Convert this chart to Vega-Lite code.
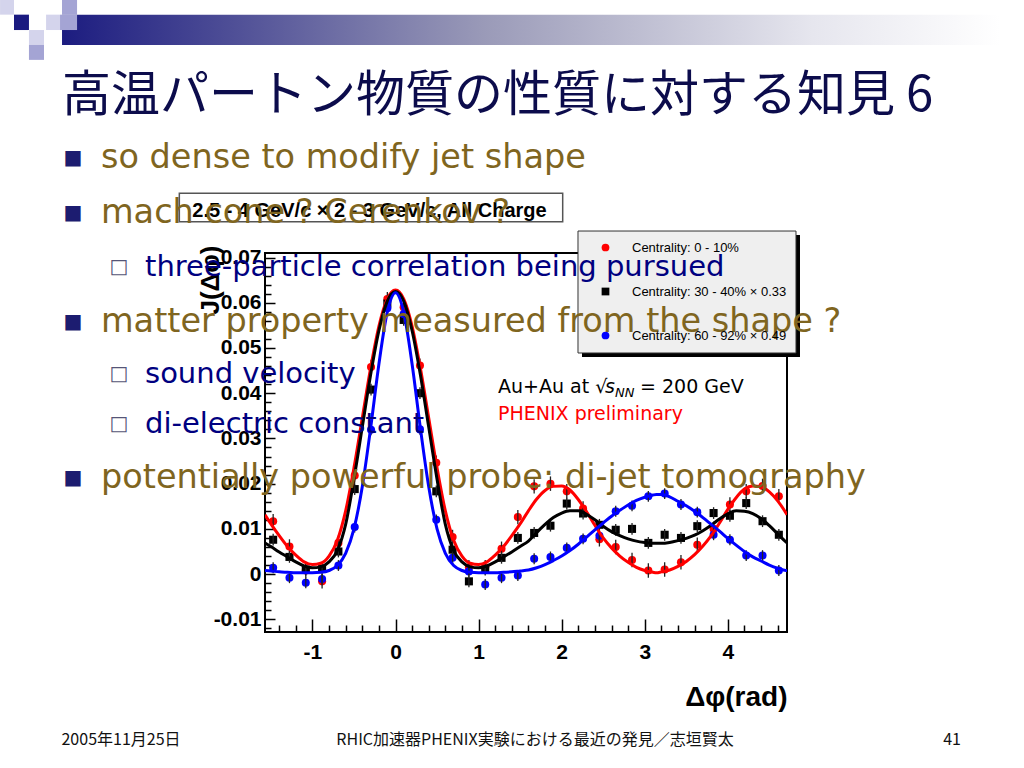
{
  "$schema": "https://vega.github.io/schema/vega-lite/v6.json",
  "autosize": {"type": "none"},
  "width": 522,
  "height": 379,
  "padding": {"left": 265, "top": 253, "right": 237, "bottom": 136},
  "background": "white",
  "config": {"view": {"stroke": "black", "strokeWidth": 2}, "font": "Liberation Sans"},
  "datasets": {
    "curves": [
      {"s": "0-10", "x": -1.5708, "v": 0.0131}, {"s": "0-10", "x": -1.5, "v": 0.0111}, {"s": "0-10", "x": -1.4, "v": 0.0085}, {"s": "0-10", "x": -1.3, "v": 0.0061}, {"s": "0-10", "x": -1.2, "v": 0.0042}, {"s": "0-10", "x": -1.1, "v": 0.0027}, {"s": "0-10", "x": -1.0, "v": 0.0021}, {"s": "0-10", "x": -0.9, "v": 0.0024}, {"s": "0-10", "x": -0.8, "v": 0.0040}, {"s": "0-10", "x": -0.7, "v": 0.0075}, {"s": "0-10", "x": -0.6, "v": 0.0140}, {"s": "0-10", "x": -0.5, "v": 0.0235}, {"s": "0-10", "x": -0.4, "v": 0.0345}, {"s": "0-10", "x": -0.3, "v": 0.0455}, {"s": "0-10", "x": -0.2, "v": 0.0548}, {"s": "0-10", "x": -0.1, "v": 0.0608}, {"s": "0-10", "x": 0.0, "v": 0.0628}, {"s": "0-10", "x": 0.1, "v": 0.0608}, {"s": "0-10", "x": 0.2, "v": 0.0548}, {"s": "0-10", "x": 0.3, "v": 0.0455}, {"s": "0-10", "x": 0.4, "v": 0.0345}, {"s": "0-10", "x": 0.5, "v": 0.0235}, {"s": "0-10", "x": 0.6, "v": 0.0140}, {"s": "0-10", "x": 0.7, "v": 0.0075}, {"s": "0-10", "x": 0.8, "v": 0.0040}, {"s": "0-10", "x": 0.9, "v": 0.0024}, {"s": "0-10", "x": 1.0, "v": 0.0021}, {"s": "0-10", "x": 1.1, "v": 0.0027}, {"s": "0-10", "x": 1.2, "v": 0.0042}, {"s": "0-10", "x": 1.3, "v": 0.0061}, {"s": "0-10", "x": 1.4, "v": 0.0085}, {"s": "0-10", "x": 1.5, "v": 0.0111}, {"s": "0-10", "x": 1.6, "v": 0.0140}, {"s": "0-10", "x": 1.7, "v": 0.0166}, {"s": "0-10", "x": 1.8, "v": 0.0185}, {"s": "0-10", "x": 1.9, "v": 0.0194}, {"s": "0-10", "x": 2.0, "v": 0.0195}, {"s": "0-10", "x": 2.1, "v": 0.0186}, {"s": "0-10", "x": 2.2, "v": 0.0165}, {"s": "0-10", "x": 2.3, "v": 0.0138}, {"s": "0-10", "x": 2.4, "v": 0.0108}, {"s": "0-10", "x": 2.5, "v": 0.0080}, {"s": "0-10", "x": 2.6, "v": 0.0058}, {"s": "0-10", "x": 2.7, "v": 0.0040}, {"s": "0-10", "x": 2.8, "v": 0.0026}, {"s": "0-10", "x": 2.9, "v": 0.0015}, {"s": "0-10", "x": 3.0, "v": 0.0008}, {"s": "0-10", "x": 3.1, "v": 0.0004}, {"s": "0-10", "x": 3.1416, "v": 0.0003}, {"s": "0-10", "x": 3.2, "v": 0.0005}, {"s": "0-10", "x": 3.3, "v": 0.0009}, {"s": "0-10", "x": 3.4, "v": 0.0017}, {"s": "0-10", "x": 3.5, "v": 0.0028}, {"s": "0-10", "x": 3.6, "v": 0.0043}, {"s": "0-10", "x": 3.7, "v": 0.0062}, {"s": "0-10", "x": 3.8, "v": 0.0085}, {"s": "0-10", "x": 3.9, "v": 0.0113}, {"s": "0-10", "x": 4.0, "v": 0.0143}, {"s": "0-10", "x": 4.1, "v": 0.0169}, {"s": "0-10", "x": 4.2, "v": 0.0188}, {"s": "0-10", "x": 4.3, "v": 0.0195}, {"s": "0-10", "x": 4.4, "v": 0.0193}, {"s": "0-10", "x": 4.5, "v": 0.0182}, {"s": "0-10", "x": 4.6, "v": 0.0162}, {"s": "0-10", "x": 4.7, "v": 0.0135}, {"s": "0-10", "x": 4.7124, "v": 0.0131},
      {"s": "30-40", "x": -1.5708, "v": 0.0069}, {"s": "30-40", "x": -1.5, "v": 0.0061}, {"s": "30-40", "x": -1.4, "v": 0.0049}, {"s": "30-40", "x": -1.3, "v": 0.0038}, {"s": "30-40", "x": -1.2, "v": 0.0027}, {"s": "30-40", "x": -1.1, "v": 0.0018}, {"s": "30-40", "x": -1.0, "v": 0.0014}, {"s": "30-40", "x": -0.9, "v": 0.0016}, {"s": "30-40", "x": -0.8, "v": 0.0027}, {"s": "30-40", "x": -0.7, "v": 0.0052}, {"s": "30-40", "x": -0.6, "v": 0.0110}, {"s": "30-40", "x": -0.5, "v": 0.0210}, {"s": "30-40", "x": -0.4, "v": 0.0325}, {"s": "30-40", "x": -0.3, "v": 0.0440}, {"s": "30-40", "x": -0.2, "v": 0.0538}, {"s": "30-40", "x": -0.1, "v": 0.0603}, {"s": "30-40", "x": 0.0, "v": 0.0625}, {"s": "30-40", "x": 0.1, "v": 0.0603}, {"s": "30-40", "x": 0.2, "v": 0.0538}, {"s": "30-40", "x": 0.3, "v": 0.0440}, {"s": "30-40", "x": 0.4, "v": 0.0325}, {"s": "30-40", "x": 0.5, "v": 0.0210}, {"s": "30-40", "x": 0.6, "v": 0.0110}, {"s": "30-40", "x": 0.7, "v": 0.0052}, {"s": "30-40", "x": 0.8, "v": 0.0027}, {"s": "30-40", "x": 0.9, "v": 0.0016}, {"s": "30-40", "x": 1.0, "v": 0.0014}, {"s": "30-40", "x": 1.1, "v": 0.0018}, {"s": "30-40", "x": 1.2, "v": 0.0027}, {"s": "30-40", "x": 1.3, "v": 0.0038}, {"s": "30-40", "x": 1.4, "v": 0.0049}, {"s": "30-40", "x": 1.5, "v": 0.0061}, {"s": "30-40", "x": 1.6, "v": 0.0073}, {"s": "30-40", "x": 1.7, "v": 0.0092}, {"s": "30-40", "x": 1.8, "v": 0.0110}, {"s": "30-40", "x": 1.9, "v": 0.0125}, {"s": "30-40", "x": 2.0, "v": 0.0135}, {"s": "30-40", "x": 2.1, "v": 0.0140}, {"s": "30-40", "x": 2.2, "v": 0.0140}, {"s": "30-40", "x": 2.3, "v": 0.0132}, {"s": "30-40", "x": 2.4, "v": 0.0120}, {"s": "30-40", "x": 2.5, "v": 0.0106}, {"s": "30-40", "x": 2.6, "v": 0.0094}, {"s": "30-40", "x": 2.7, "v": 0.0085}, {"s": "30-40", "x": 2.8, "v": 0.0078}, {"s": "30-40", "x": 2.9, "v": 0.0073}, {"s": "30-40", "x": 3.0, "v": 0.0070}, {"s": "30-40", "x": 3.1, "v": 0.0068}, {"s": "30-40", "x": 3.1416, "v": 0.0068}, {"s": "30-40", "x": 3.2, "v": 0.0068}, {"s": "30-40", "x": 3.3, "v": 0.0070}, {"s": "30-40", "x": 3.4, "v": 0.0074}, {"s": "30-40", "x": 3.5, "v": 0.0079}, {"s": "30-40", "x": 3.6, "v": 0.0086}, {"s": "30-40", "x": 3.7, "v": 0.0096}, {"s": "30-40", "x": 3.8, "v": 0.0108}, {"s": "30-40", "x": 3.9, "v": 0.0122}, {"s": "30-40", "x": 4.0, "v": 0.0133}, {"s": "30-40", "x": 4.1, "v": 0.0140}, {"s": "30-40", "x": 4.2, "v": 0.0139}, {"s": "30-40", "x": 4.3, "v": 0.0134}, {"s": "30-40", "x": 4.4, "v": 0.0123}, {"s": "30-40", "x": 4.5, "v": 0.0107}, {"s": "30-40", "x": 4.6, "v": 0.0089}, {"s": "30-40", "x": 4.7, "v": 0.0071}, {"s": "30-40", "x": 4.7124, "v": 0.0069},
      {"s": "60-92", "x": -1.5708, "v": 0.0008}, {"s": "60-92", "x": -1.5, "v": 0.0007}, {"s": "60-92", "x": -1.4, "v": 0.0005}, {"s": "60-92", "x": -1.3, "v": 0.0004}, {"s": "60-92", "x": -1.2, "v": 0.0003}, {"s": "60-92", "x": -1.1, "v": 0.0003}, {"s": "60-92", "x": -1.0, "v": 0.0003}, {"s": "60-92", "x": -0.9, "v": 0.0004}, {"s": "60-92", "x": -0.8, "v": 0.0008}, {"s": "60-92", "x": -0.7, "v": 0.0019}, {"s": "60-92", "x": -0.6, "v": 0.0046}, {"s": "60-92", "x": -0.5, "v": 0.0100}, {"s": "60-92", "x": -0.4, "v": 0.0193}, {"s": "60-92", "x": -0.3, "v": 0.0322}, {"s": "60-92", "x": -0.2, "v": 0.0464}, {"s": "60-92", "x": -0.1, "v": 0.0578}, {"s": "60-92", "x": 0.0, "v": 0.0622}, {"s": "60-92", "x": 0.1, "v": 0.0578}, {"s": "60-92", "x": 0.2, "v": 0.0464}, {"s": "60-92", "x": 0.3, "v": 0.0322}, {"s": "60-92", "x": 0.4, "v": 0.0193}, {"s": "60-92", "x": 0.5, "v": 0.0100}, {"s": "60-92", "x": 0.6, "v": 0.0046}, {"s": "60-92", "x": 0.7, "v": 0.0019}, {"s": "60-92", "x": 0.8, "v": 0.0008}, {"s": "60-92", "x": 0.9, "v": 0.0004}, {"s": "60-92", "x": 1.0, "v": 0.0003}, {"s": "60-92", "x": 1.1, "v": 0.0003}, {"s": "60-92", "x": 1.2, "v": 0.0003}, {"s": "60-92", "x": 1.3, "v": 0.0004}, {"s": "60-92", "x": 1.4, "v": 0.0005}, {"s": "60-92", "x": 1.5, "v": 0.0007}, {"s": "60-92", "x": 1.6, "v": 0.0009}, {"s": "60-92", "x": 1.7, "v": 0.0014}, {"s": "60-92", "x": 1.8, "v": 0.0021}, {"s": "60-92", "x": 1.9, "v": 0.0030}, {"s": "60-92", "x": 2.0, "v": 0.0040}, {"s": "60-92", "x": 2.1, "v": 0.0052}, {"s": "60-92", "x": 2.2, "v": 0.0066}, {"s": "60-92", "x": 2.3, "v": 0.0082}, {"s": "60-92", "x": 2.4, "v": 0.0098}, {"s": "60-92", "x": 2.5, "v": 0.0113}, {"s": "60-92", "x": 2.6, "v": 0.0128}, {"s": "60-92", "x": 2.7, "v": 0.0141}, {"s": "60-92", "x": 2.8, "v": 0.0153}, {"s": "60-92", "x": 2.9, "v": 0.0163}, {"s": "60-92", "x": 3.0, "v": 0.0170}, {"s": "60-92", "x": 3.1, "v": 0.0175}, {"s": "60-92", "x": 3.1416, "v": 0.0176}, {"s": "60-92", "x": 3.2, "v": 0.0176}, {"s": "60-92", "x": 3.3, "v": 0.0171}, {"s": "60-92", "x": 3.4, "v": 0.0161}, {"s": "60-92", "x": 3.5, "v": 0.0151}, {"s": "60-92", "x": 3.6, "v": 0.0139}, {"s": "60-92", "x": 3.7, "v": 0.0125}, {"s": "60-92", "x": 3.8, "v": 0.0110}, {"s": "60-92", "x": 3.9, "v": 0.0095}, {"s": "60-92", "x": 4.0, "v": 0.0079}, {"s": "60-92", "x": 4.1, "v": 0.0064}, {"s": "60-92", "x": 4.2, "v": 0.0050}, {"s": "60-92", "x": 4.3, "v": 0.0038}, {"s": "60-92", "x": 4.4, "v": 0.0029}, {"s": "60-92", "x": 4.5, "v": 0.0020}, {"s": "60-92", "x": 4.6, "v": 0.0013}, {"s": "60-92", "x": 4.7, "v": 0.0008}, {"s": "60-92", "x": 4.7124, "v": 0.0008}
    ],
    "points": [
      {"s": "0-10", "dphi": -1.4726, "j": 0.0117, "err": 0.0016}, {"s": "0-10", "dphi": -1.2763, "j": 0.0061, "err": 0.0016}, {"s": "0-10", "dphi": -1.0799, "j": 0.0008, "err": 0.0016}, {"s": "0-10", "dphi": -0.8836, "j": -0.0016, "err": 0.0016}, {"s": "0-10", "dphi": -0.6872, "j": 0.0069, "err": 0.0016}, {"s": "0-10", "dphi": -0.4909, "j": 0.0218, "err": 0.0016}, {"s": "0-10", "dphi": -0.2945, "j": 0.0458, "err": 0.0016}, {"s": "0-10", "dphi": -0.0982, "j": 0.0608, "err": 0.0016}, {"s": "0-10", "dphi": 0.0982, "j": 0.0590, "err": 0.0016}, {"s": "0-10", "dphi": 0.2945, "j": 0.0461, "err": 0.0016}, {"s": "0-10", "dphi": 0.4909, "j": 0.0246, "err": 0.0016}, {"s": "0-10", "dphi": 0.6872, "j": 0.0082, "err": 0.0016}, {"s": "0-10", "dphi": 0.8836, "j": 0.0015, "err": 0.0016}, {"s": "0-10", "dphi": 1.0799, "j": 0.0015, "err": 0.0016}, {"s": "0-10", "dphi": 1.2763, "j": 0.0056, "err": 0.0016}, {"s": "0-10", "dphi": 1.4726, "j": 0.0126, "err": 0.0016}, {"s": "0-10", "dphi": 1.669, "j": 0.0194, "err": 0.0016}, {"s": "0-10", "dphi": 1.8653, "j": 0.0200, "err": 0.0016}, {"s": "0-10", "dphi": 2.0617, "j": 0.0183, "err": 0.0016}, {"s": "0-10", "dphi": 2.258, "j": 0.0145, "err": 0.0016}, {"s": "0-10", "dphi": 2.4544, "j": 0.0077, "err": 0.0016}, {"s": "0-10", "dphi": 2.6507, "j": 0.0060, "err": 0.0016}, {"s": "0-10", "dphi": 2.8471, "j": 0.0031, "err": 0.0016}, {"s": "0-10", "dphi": 3.0434, "j": 0.0008, "err": 0.0016}, {"s": "0-10", "dphi": 3.2398, "j": 0.0010, "err": 0.0016}, {"s": "0-10", "dphi": 3.4361, "j": 0.0026, "err": 0.0016}, {"s": "0-10", "dphi": 3.6325, "j": 0.0065, "err": 0.0016}, {"s": "0-10", "dphi": 3.8288, "j": 0.0100, "err": 0.0016}, {"s": "0-10", "dphi": 4.0252, "j": 0.0154, "err": 0.0016}, {"s": "0-10", "dphi": 4.2215, "j": 0.0183, "err": 0.0016}, {"s": "0-10", "dphi": 4.4179, "j": 0.0195, "err": 0.0016}, {"s": "0-10", "dphi": 4.6142, "j": 0.0172, "err": 0.0016},
      {"s": "30-40", "dphi": -1.4726, "j": 0.0076, "err": 0.0013}, {"s": "30-40", "dphi": -1.2763, "j": 0.0038, "err": 0.0013}, {"s": "30-40", "dphi": -1.0799, "j": 0.0010, "err": 0.0013}, {"s": "30-40", "dphi": -0.8836, "j": 0.0012, "err": 0.0013}, {"s": "30-40", "dphi": -0.6872, "j": 0.0050, "err": 0.0013}, {"s": "30-40", "dphi": -0.4909, "j": 0.0188, "err": 0.0013}, {"s": "30-40", "dphi": -0.2945, "j": 0.0408, "err": 0.0013}, {"s": "30-40", "dphi": -0.0982, "j": 0.0598, "err": 0.0013}, {"s": "30-40", "dphi": 0.0982, "j": 0.0562, "err": 0.0013}, {"s": "30-40", "dphi": 0.2945, "j": 0.0400, "err": 0.0013}, {"s": "30-40", "dphi": 0.4909, "j": 0.0183, "err": 0.0013}, {"s": "30-40", "dphi": 0.6872, "j": 0.0054, "err": 0.0013}, {"s": "30-40", "dphi": 0.8836, "j": -0.0016, "err": 0.0013}, {"s": "30-40", "dphi": 1.0799, "j": 0.0010, "err": 0.0013}, {"s": "30-40", "dphi": 1.2763, "j": 0.0036, "err": 0.0013}, {"s": "30-40", "dphi": 1.4726, "j": 0.0080, "err": 0.0013}, {"s": "30-40", "dphi": 1.669, "j": 0.0091, "err": 0.0013}, {"s": "30-40", "dphi": 1.8653, "j": 0.0107, "err": 0.0013}, {"s": "30-40", "dphi": 2.0617, "j": 0.0156, "err": 0.0013}, {"s": "30-40", "dphi": 2.258, "j": 0.0134, "err": 0.0013}, {"s": "30-40", "dphi": 2.4544, "j": 0.0109, "err": 0.0013}, {"s": "30-40", "dphi": 2.6507, "j": 0.0098, "err": 0.0013}, {"s": "30-40", "dphi": 2.8471, "j": 0.0100, "err": 0.0013}, {"s": "30-40", "dphi": 3.0434, "j": 0.0069, "err": 0.0013}, {"s": "30-40", "dphi": 3.2398, "j": 0.0087, "err": 0.0013}, {"s": "30-40", "dphi": 3.4361, "j": 0.0080, "err": 0.0013}, {"s": "30-40", "dphi": 3.6325, "j": 0.0106, "err": 0.0013}, {"s": "30-40", "dphi": 3.8288, "j": 0.0135, "err": 0.0013}, {"s": "30-40", "dphi": 4.0252, "j": 0.0129, "err": 0.0013}, {"s": "30-40", "dphi": 4.2215, "j": 0.0157, "err": 0.0013}, {"s": "30-40", "dphi": 4.4179, "j": 0.0117, "err": 0.0013}, {"s": "30-40", "dphi": 4.6142, "j": 0.0087, "err": 0.0013},
      {"s": "60-92", "dphi": -1.4726, "j": 0.0014, "err": 0.0012}, {"s": "60-92", "dphi": -1.2763, "j": -0.0008, "err": 0.0012}, {"s": "60-92", "dphi": -1.0799, "j": -0.0019, "err": 0.0012}, {"s": "60-92", "dphi": -0.8836, "j": -0.0011, "err": 0.0012}, {"s": "60-92", "dphi": -0.6872, "j": 0.0019, "err": 0.0012}, {"s": "60-92", "dphi": -0.4909, "j": 0.0104, "err": 0.0012}, {"s": "60-92", "dphi": -0.2945, "j": 0.0319, "err": 0.0012}, {"s": "60-92", "dphi": -0.0982, "j": 0.0588, "err": 0.0012}, {"s": "60-92", "dphi": 0.0982, "j": 0.0575, "err": 0.0012}, {"s": "60-92", "dphi": 0.2945, "j": 0.0320, "err": 0.0012}, {"s": "60-92", "dphi": 0.4909, "j": 0.0120, "err": 0.0012}, {"s": "60-92", "dphi": 0.6872, "j": 0.0036, "err": 0.0012}, {"s": "60-92", "dphi": 0.8836, "j": 0.0006, "err": 0.0012}, {"s": "60-92", "dphi": 1.0799, "j": -0.0023, "err": 0.0012}, {"s": "60-92", "dphi": 1.2763, "j": -0.0008, "err": 0.0012}, {"s": "60-92", "dphi": 1.4726, "j": -0.0003, "err": 0.0012}, {"s": "60-92", "dphi": 1.669, "j": 0.0034, "err": 0.0012}, {"s": "60-92", "dphi": 1.8653, "j": 0.0038, "err": 0.0012}, {"s": "60-92", "dphi": 2.0617, "j": 0.0058, "err": 0.0012}, {"s": "60-92", "dphi": 2.258, "j": 0.0078, "err": 0.0012}, {"s": "60-92", "dphi": 2.4544, "j": 0.0085, "err": 0.0012}, {"s": "60-92", "dphi": 2.6507, "j": 0.0139, "err": 0.0012}, {"s": "60-92", "dphi": 2.8471, "j": 0.0151, "err": 0.0012}, {"s": "60-92", "dphi": 3.0434, "j": 0.0172, "err": 0.0012}, {"s": "60-92", "dphi": 3.2398, "j": 0.0178, "err": 0.0012}, {"s": "60-92", "dphi": 3.4361, "j": 0.0154, "err": 0.0012}, {"s": "60-92", "dphi": 3.6325, "j": 0.0137, "err": 0.0012}, {"s": "60-92", "dphi": 3.8288, "j": 0.0087, "err": 0.0012}, {"s": "60-92", "dphi": 4.0252, "j": 0.0076, "err": 0.0012}, {"s": "60-92", "dphi": 4.2215, "j": 0.0041, "err": 0.0012}, {"s": "60-92", "dphi": 4.4179, "j": 0.0041, "err": 0.0012}, {"s": "60-92", "dphi": 4.6142, "j": 0.0008, "err": 0.0012}
    ],
    "bullets": [
      {"level": 1, "text": "so dense to modify jet shape", "ax": -3.545, "ay": 0.0920},
      {"level": 1, "text": "mach cone ? Cerenkov ?", "ax": -3.545, "ay": 0.0798},
      {"level": 2, "text": "three-particle correlation being pursued", "ax": -3.015, "ay": 0.0679},
      {"level": 1, "text": "matter property measured from the shape ?", "ax": -3.545, "ay": 0.0557},
      {"level": 2, "text": "sound velocity", "ax": -3.015, "ay": 0.0442},
      {"level": 2, "text": "di-electric constant", "ax": -3.015, "ay": 0.0332},
      {"level": 1, "text": "potentially powerful probe: di-jet tomography", "ax": -3.545, "ay": 0.0213}
    ],
    "decor": [
      {"tone": "pale", "x1": -4.760, "x2": -4.592, "y1": 0.1270, "y2": 0.1237},
      {"tone": "mid", "x1": -4.014, "x2": -3.833, "y1": 0.1270, "y2": 0.1237},
      {"tone": "navy", "x1": -4.592, "x2": -4.412, "y1": 0.1237, "y2": 0.1203},
      {"tone": "pale", "x1": -4.206, "x2": -4.038, "y1": 0.1237, "y2": 0.1203},
      {"tone": "mid", "x1": -4.038, "x2": -3.833, "y1": 0.1237, "y2": 0.1203},
      {"tone": "pale", "x1": -4.412, "x2": -4.231, "y1": 0.1203, "y2": 0.1170},
      {"tone": "mid", "x1": -4.412, "x2": -4.231, "y1": 0.1170, "y2": 0.1137}
    ]
  },
  "resolve": {"axis": {"x": "independent", "y": "independent"}},
  "layer": [
    {
      "data": {"values": [{"x1": -4.014, "x2": 7.276, "y1": 0.1237, "y2": 0.1170}]},
      "mark": {"type": "rect", "fill": {"gradient": "linear", "x1": 0, "y1": 0, "x2": 1, "y2": 0, "stops": [{"offset": 0, "color": "#1c1c80"}, {"offset": 0.45, "color": "#9a9ab8"}, {"offset": 0.8, "color": "#e6e6ee"}, {"offset": 1, "color": "#ffffff"}]}},
      "encoding": {
        "x": {"field": "x1", "type": "quantitative", "axis": null},
        "x2": {"field": "x2"},
        "y": {"field": "y1", "type": "quantitative", "axis": null},
        "y2": {"field": "y2"}
      }
    },
    {
      "data": {"name": "decor"},
      "mark": {"type": "rect"},
      "encoding": {
        "x": {"field": "x1", "type": "quantitative", "axis": null},
        "x2": {"field": "x2"},
        "y": {"field": "y1", "type": "quantitative", "axis": null},
        "y2": {"field": "y2"},
        "fill": {"field": "tone", "type": "nominal", "scale": {"domain": ["pale", "mid", "navy"], "range": ["#d4d4ec", "#a4a4d4", "#1a1a80"]}, "legend": null}
      }
    },
    {
      "data": {"name": "points"},
      "mark": {"type": "point", "filled": true, "opacity": 1, "size": 65},
      "encoding": {
        "x": {"field": "dphi", "type": "quantitative",
          "axis": {"orient": "bottom", "values": [-1, 0, 1, 2, 3, 4], "labels": false, "domain": false, "grid": false, "ticks": true, "tickSize": -13, "tickColor": "black", "tickWidth": 1.5, "title": null}},
        "y": {"field": "j", "type": "quantitative",
          "axis": {"orient": "left", "values": [-0.01, 0, 0.01, 0.02, 0.03, 0.04, 0.05, 0.06, 0.07], "labels": false, "domain": false, "grid": false, "ticks": true, "tickSize": -10, "tickColor": "black", "tickWidth": 1.5, "title": null}},
        "color": {"field": "s", "type": "nominal", "scale": {"domain": ["0-10", "30-40", "60-92"], "range": ["#ff0000", "#000000", "#0000ff"]},
          "legend": {"title": null, "orient": "none", "legendX": 313, "legendY": -22, "fillColor": "transparent", "strokeColor": "transparent", "padding": 10, "rowPadding": 30, "symbolOffset": 11, "labelOffset": 20, "symbolSize": 60, "labelFont": "Liberation Sans", "labelFontSize": 13, "labelColor": "black", "labelLimit": 0, "labelExpr": "datum.label == '0-10' ? 'Centrality:  0 - 10%' : datum.label == '30-40' ? 'Centrality: 30 - 40% × 0.33' : 'Centrality: 60 - 92% × 0.49'"}},
        "shape": {"field": "s", "type": "nominal", "scale": {"domain": ["0-10", "30-40", "60-92"], "range": ["circle", "square", "circle"]},
          "legend": {"title": null, "orient": "none", "legendX": 313, "legendY": -22, "fillColor": "transparent", "strokeColor": "transparent", "padding": 10, "rowPadding": 30, "symbolOffset": 11, "labelOffset": 20, "symbolSize": 60, "labelFont": "Liberation Sans", "labelFontSize": 13, "labelColor": "black", "labelLimit": 0, "labelExpr": "datum.label == '0-10' ? 'Centrality:  0 - 10%' : datum.label == '30-40' ? 'Centrality: 30 - 40% × 0.33' : 'Centrality: 60 - 92% × 0.49'"}}
      }
    },
    {
      "data": {"name": "points"},
      "mark": {"type": "errorbar", "color": "#222222", "thickness": 1.3},
      "encoding": {
        "x": {"field": "dphi", "type": "quantitative", "axis": null},
        "y": {"field": "j", "type": "quantitative", "axis": null},
        "yError": {"field": "err"}
      }
    },
    {
      "data": {"name": "curves"},
      "mark": {"type": "line", "strokeWidth": 3, "interpolate": "monotone", "clip": true},
      "encoding": {
        "x": {"field": "x", "type": "quantitative", "scale": {"domain": [-1.5708, 4.7124], "nice": false, "zero": false},
          "axis": {"orient": "bottom", "values": [-1, 0, 1, 2, 3, 4], "format": "d", "labelExpr": "replace(datum.label, '−', '-')", "ticks": false, "domain": false, "grid": false, "labelFont": "Liberation Sans", "labelFontWeight": "bold", "labelFontSize": 21, "labelColor": "black", "labelPadding": 9, "labelFlush": false, "labelOverlap": false, "title": "Δφ(rad)", "titleFont": "Liberation Sans", "titleFontWeight": "bold", "titleFontSize": 28, "titleColor": "black", "titleX": 522, "titleY": 65, "titleAlign": "right", "titleBaseline": "middle"}},
        "y": {"field": "v", "type": "quantitative", "scale": {"domain": [-0.0128, 0.071], "nice": false, "zero": false},
          "axis": {"orient": "left", "values": [-0.01, 0, 0.01, 0.02, 0.03, 0.04, 0.05, 0.06, 0.07], "format": ".2~f", "labelExpr": "replace(datum.label, '−', '-')", "ticks": false, "domain": false, "grid": false, "labelFont": "Liberation Sans", "labelFontWeight": "bold", "labelFontSize": 21, "labelColor": "black", "labelPadding": 4, "labelOverlap": false, "title": "J(Δφ)", "titleFont": "Liberation Sans", "titleFontWeight": "bold", "titleFontSize": 26, "titleColor": "black", "titleAngle": 270, "titleAlign": "right", "titleBaseline": "middle", "titleX": -55, "titleY": -8}},
        "stroke": {"field": "s", "type": "nominal", "scale": {"domain": ["60-92", "30-40", "0-10"], "range": ["#0000ff", "#000000", "#ff0000"]}, "legend": null}
      }
    },
    {
      "data": {"values": [{"x1": -2.602, "x2": 2.0125, "y1": 0.0842, "y2": 0.0779}]},
      "mark": {"type": "rect", "fill": "white", "stroke": "#555555", "strokeWidth": 1.5},
      "encoding": {
        "x": {"field": "x1", "type": "quantitative", "axis": null},
        "x2": {"field": "x2"},
        "y": {"field": "y1", "type": "quantitative", "axis": null},
        "y2": {"field": "y2"}
      }
    },
    {
      "data": {"values": [{"text": "2.5 - 4 GeV/c × 2 - 3 GeV/c, All Charge", "ax": -0.313, "ay": 0.0790}]},
      "mark": {"type": "text", "align": "center", "baseline": "alphabetic", "font": "Liberation Sans", "fontWeight": "bold", "fontSize": 20, "color": "black"},
      "encoding": {
        "x": {"field": "ax", "type": "quantitative", "axis": null},
        "y": {"field": "ay", "type": "quantitative", "axis": null},
        "text": {"field": "text"}
      }
    },
    {
      "data": {"values": [{"x1": 2.2448, "x2": 4.8688, "y1": 0.07498, "y2": 0.04801}]},
      "mark": {"type": "rect", "fill": "black"},
      "encoding": {
        "x": {"field": "x1", "type": "quantitative", "axis": null},
        "x2": {"field": "x2"},
        "y": {"field": "y1", "type": "quantitative", "axis": null},
        "y2": {"field": "y2"}
      }
    },
    {
      "data": {"values": [{"x1": 2.1967, "x2": 4.8207, "y1": 0.07586, "y2": 0.04889}]},
      "mark": {"type": "rect", "fill": "#efefef", "stroke": "#333333", "strokeWidth": 1},
      "encoding": {
        "x": {"field": "x1", "type": "quantitative", "axis": null},
        "x2": {"field": "x2"},
        "y": {"field": "y1", "type": "quantitative", "axis": null},
        "y2": {"field": "y2"}
      }
    },
    {
      "data": {"values": [{"text": "Au+Au at √", "ax": 1.234, "ay": 0.0400}, {"text": "= 200 GeV", "ax": 2.943, "ay": 0.0400}]},
      "mark": {"type": "text", "align": "left", "baseline": "alphabetic", "font": "DejaVu Sans", "fontSize": 19, "color": "black"},
      "encoding": {
        "x": {"field": "ax", "type": "quantitative", "axis": null},
        "y": {"field": "ay", "type": "quantitative", "axis": null},
        "text": {"field": "text"}
      }
    },
    {
      "data": {"values": [{"text": "s", "ax": 2.521, "ay": 0.0400}]},
      "mark": {"type": "text", "align": "left", "baseline": "alphabetic", "font": "DejaVu Sans", "fontStyle": "italic", "fontSize": 19, "color": "black"},
      "encoding": {
        "x": {"field": "ax", "type": "quantitative", "axis": null},
        "y": {"field": "ay", "type": "quantitative", "axis": null},
        "text": {"field": "text"}
      }
    },
    {
      "data": {"values": [{"text": "NN", "ax": 2.642, "ay": 0.0392}]},
      "mark": {"type": "text", "align": "left", "baseline": "alphabetic", "font": "DejaVu Sans", "fontStyle": "italic", "fontSize": 13, "color": "black"},
      "encoding": {
        "x": {"field": "ax", "type": "quantitative", "axis": null},
        "y": {"field": "ay", "type": "quantitative", "axis": null},
        "text": {"field": "text"}
      }
    },
    {
      "data": {"values": [{"text": "PHENIX preliminary", "ax": 1.234, "ay": 0.0341}]},
      "mark": {"type": "text", "align": "left", "baseline": "alphabetic", "font": "DejaVu Sans", "fontSize": 19, "color": "#ff0000"},
      "encoding": {
        "x": {"field": "ax", "type": "quantitative",
          "axis": {"orient": "bottom", "values": [-1.4, -1.2, -0.8, -0.6, -0.4, -0.2, 0.2, 0.4, 0.6, 0.8, 1.2, 1.4, 1.6, 1.8, 2.2, 2.4, 2.6, 2.8, 3.2, 3.4, 3.6, 3.8, 4.2, 4.4, 4.6], "labels": false, "domain": false, "grid": false, "ticks": true, "tickSize": -7, "tickColor": "black", "tickWidth": 1.5, "title": null}},
        "y": {"field": "ay", "type": "quantitative",
          "axis": {"orient": "left", "values": [-0.012, -0.008, -0.006, -0.004, -0.002, 0.002, 0.004, 0.006, 0.008, 0.012, 0.014, 0.016, 0.018, 0.022, 0.024, 0.026, 0.028, 0.032, 0.034, 0.036, 0.038, 0.042, 0.044, 0.046, 0.048, 0.052, 0.054, 0.056, 0.058, 0.062, 0.064, 0.066, 0.068], "labels": false, "domain": false, "grid": false, "ticks": true, "tickSize": -6, "tickColor": "black", "tickWidth": 1.5, "title": null}},
        "text": {"field": "text"}
      }
    },
    {
      "data": {"values": [{"text": "高温パートン物質の性質に対する知見 6", "ax": -4.014, "ay": 0.1058}]},
      "mark": {"type": "text", "align": "left", "baseline": "middle", "font": "Noto Sans CJK JP", "fontSize": 49, "color": "#0c0c4c"},
      "encoding": {
        "x": {"field": "ax", "type": "quantitative", "axis": null},
        "y": {"field": "ay", "type": "quantitative", "axis": null},
        "text": {"field": "text"}
      }
    },
    {
      "data": {"name": "bullets"},
      "transform": [{"filter": "datum.level == 1"}],
      "mark": {"type": "text", "text": "■", "align": "center", "baseline": "middle", "dx": -28, "font": "DejaVu Sans", "fontSize": 20, "color": "#1c1c70"},
      "encoding": {
        "x": {"field": "ax", "type": "quantitative", "axis": null},
        "y": {"field": "ay", "type": "quantitative", "axis": null}
      }
    },
    {
      "data": {"name": "bullets"},
      "transform": [{"filter": "datum.level == 2"}],
      "mark": {"type": "text", "text": "□", "align": "center", "baseline": "middle", "dx": -26, "font": "DejaVu Sans", "fontSize": 20, "color": "#555577"},
      "encoding": {
        "x": {"field": "ax", "type": "quantitative", "axis": null},
        "y": {"field": "ay", "type": "quantitative", "axis": null}
      }
    },
    {
      "data": {"name": "bullets"},
      "transform": [{"filter": "datum.level == 1"}],
      "mark": {"type": "text", "align": "left", "baseline": "middle", "font": "DejaVu Sans", "fontSize": 33.5, "color": "#7f6520"},
      "encoding": {
        "x": {"field": "ax", "type": "quantitative", "axis": null},
        "y": {"field": "ay", "type": "quantitative", "axis": null},
        "text": {"field": "text"}
      }
    },
    {
      "data": {"name": "bullets"},
      "transform": [{"filter": "datum.level == 2"}],
      "mark": {"type": "text", "align": "left", "baseline": "middle", "font": "DejaVu Sans", "fontSize": 29, "color": "#000080"},
      "encoding": {
        "x": {"field": "ax", "type": "quantitative", "axis": null},
        "y": {"field": "ay", "type": "quantitative", "axis": null},
        "text": {"field": "text"}
      }
    },
    {
      "data": {"values": [
        {"text": "2005年11月25日", "ax": -3.304, "ay": -0.0367},
        {"text": "RHIC加速器PHENIX実験における最近の発見／志垣賢太", "ax": 1.679, "ay": -0.0367},
        {"text": "41", "ax": 6.699, "ay": -0.0367}
      ]},
      "mark": {"type": "text", "align": "center", "baseline": "middle", "font": "Noto Sans CJK JP", "fontSize": 16, "color": "#111111"},
      "encoding": {
        "x": {"field": "ax", "type": "quantitative", "axis": null},
        "y": {"field": "ay", "type": "quantitative", "axis": null},
        "text": {"field": "text"}
      }
    }
  ]
}
